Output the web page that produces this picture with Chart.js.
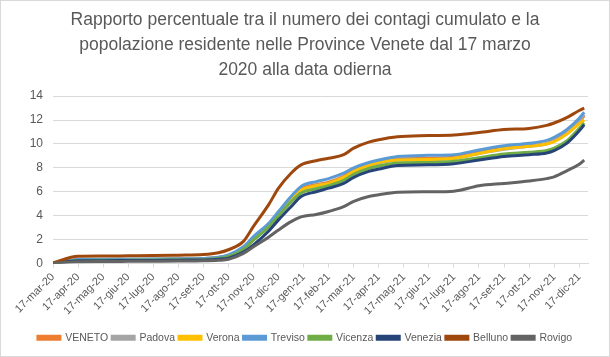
<!DOCTYPE html>
<html><head><meta charset="utf-8">
<script src="https://cdn.jsdelivr.net/npm/chart.js@4"></script>
<style>
html,body{margin:0;padding:0;background:#fff;}
#wrap{position:absolute;left:0;top:0;width:608px;height:355px;border:1px solid #d9d9d9;background:#fff;}
canvas{display:block;}
</style></head><body>
<div id="wrap"><canvas id="c" width="608" height="355"></canvas></div>
<script>
const titleLines = ["Rapporto percentuale tra il numero dei contagi cumulato e la","popolazione residente nelle Province Venete dal 17 marzo","2020 alla data odierna"];
const monthLabels = ["17-mar-20","17-apr-20","17-mag-20","17-giu-20","17-lug-20","17-ago-20","17-set-20","17-ott-20","17-nov-20","17-dic-20","17-gen-21","17-feb-21","17-mar-21","17-apr-21","17-mag-21","17-giu-21","17-lug-21","17-ago-21","17-set-21","17-ott-21","17-nov-21","17-dic-21"];
// x position in months since 17-mar-20
const monthPos = [0,1,2,3,4,5,6,6.6,7,7.6,8,8.6,9,9.5,9.9,10.5,11,11.6,12,12.6,13,13.75,15,16,17,18,19,19.7,20,20.5,21,21.2];
const seriesNames = ["VENETO","Padova","Verona","Treviso","Vicenza","Venezia","Belluno","Rovigo"];
const veneto  = [0.02,0.30,0.33,0.34,0.35,0.38,0.41,0.50,0.68,1.30,2.10,3.20,4.20,5.50,6.25,6.60,6.80,7.30,7.80,8.25,8.50,8.75,8.80,8.90,9.30,9.65,9.85,10.05,10.30,10.95,11.90,12.35];
const padova  = [0.02,0.32,0.34,0.35,0.36,0.39,0.42,0.50,0.66,1.25,2.00,3.10,4.10,5.35,6.10,6.50,6.70,7.20,7.70,8.15,8.40,8.65,8.70,8.80,9.20,9.55,9.80,10.00,10.25,10.90,11.95,12.45];
const verona  = [0.02,0.30,0.32,0.33,0.34,0.37,0.40,0.48,0.65,1.25,2.05,3.10,4.10,5.45,6.15,6.50,6.70,7.20,7.70,8.20,8.45,8.65,8.70,8.80,9.20,9.60,9.80,10.00,10.20,10.80,11.70,12.00];
const treviso = [0.02,0.33,0.35,0.36,0.37,0.40,0.42,0.52,0.72,1.40,2.25,3.35,4.35,5.60,6.45,6.85,7.10,7.55,8.00,8.45,8.65,8.95,9.05,9.10,9.50,9.85,10.05,10.30,10.55,11.20,12.15,12.65];
const vicenza = [0.02,0.25,0.27,0.28,0.29,0.31,0.34,0.42,0.60,1.20,1.95,3.05,4.00,5.15,5.90,6.25,6.50,6.95,7.45,7.95,8.15,8.40,8.45,8.55,8.85,9.15,9.30,9.45,9.65,10.25,11.30,11.75];
const venezia = [0.02,0.22,0.24,0.25,0.26,0.28,0.30,0.36,0.45,0.95,1.55,2.70,3.65,4.75,5.60,6.00,6.30,6.70,7.20,7.70,7.90,8.20,8.25,8.35,8.65,8.95,9.10,9.25,9.45,10.05,11.10,11.60];
const belluno = [0.05,0.60,0.62,0.64,0.66,0.70,0.75,0.90,1.15,1.85,3.10,4.90,6.30,7.55,8.25,8.60,8.80,9.10,9.65,10.15,10.35,10.60,10.70,10.75,10.95,11.20,11.30,11.55,11.75,12.20,12.80,13.00];
const rovigo  = [0.01,0.15,0.17,0.18,0.19,0.20,0.22,0.27,0.35,0.85,1.40,2.20,2.80,3.50,3.90,4.10,4.35,4.75,5.20,5.60,5.75,5.95,6.00,6.05,6.50,6.70,6.90,7.10,7.25,7.75,8.30,8.65];
const yTicks = [0,2,4,6,8,10,12,14];

const seriesValues = [veneto,padova,verona,treviso,vicenza,venezia,belluno,rovigo];
const colors = ["#ED7D31","#A5A5A5","#FFC000","#5B9BD5","#70AD47","#264478","#9E480E","#636363"];

const datasets = seriesNames.map((n,i)=>({
  label:n,
  data: seriesValues[i].map((v,k)=>({x:monthPos[k], y:v})),
  borderColor:colors[i], backgroundColor:colors[i],
  borderWidth:3, pointRadius:0, tension:0.3, cubicInterpolationMode:'monotone',
  order: seriesNames.length - i
}));

const font = "'Liberation Sans', Arial, sans-serif";
new Chart(document.getElementById('c'), {
  type:'line',
  data:{datasets},
  options:{
    responsive:false, animation:false,
    layout:{padding:{left:21,right:21,top:4,bottom:3}},
    plugins:{
      title:{display:true,text:titleLines,color:'#595959',font:{family:font,size:17.5,weight:'normal',lineHeight:1.45},padding:{top:2,bottom:13}},
      legend:{position:'bottom',labels:{color:'#595959',font:{family:font,size:10.5},boxWidth:22,boxHeight:3,padding:4,
        sort:(a,b)=>a.datasetIndex-b.datasetIndex}},
      tooltip:{enabled:false}
    },
    scales:{
      x:{type:'linear',min:0,max:21.35,
        afterBuildTicks:(s)=>{s.ticks=monthLabels.map((l,i)=>({value:i}));},
        afterFit:(s)=>{s.height=65;},
        ticks:{autoSkip:false,maxRotation:45,minRotation:45,color:'#595959',font:{family:font,size:11},
          callback:(v)=>monthLabels[Math.round(v)] ?? ''},
        grid:{drawOnChartArea:false,drawTicks:true,tickLength:4,color:'#d9d9d9'},
        border:{display:true,color:'#d9d9d9'}
      },
      y:{min:0,max:14,
        afterBuildTicks:(s)=>{s.ticks=yTicks.map(v=>({value:v}));},
        afterFit:(s)=>{s.width=31;},
        ticks:{color:'#595959',font:{family:font,size:12},padding:10},
        grid:{color:'#d9d9d9',drawTicks:false},
        border:{display:false}
      }
    }
  }
});
</script>
</body></html>
